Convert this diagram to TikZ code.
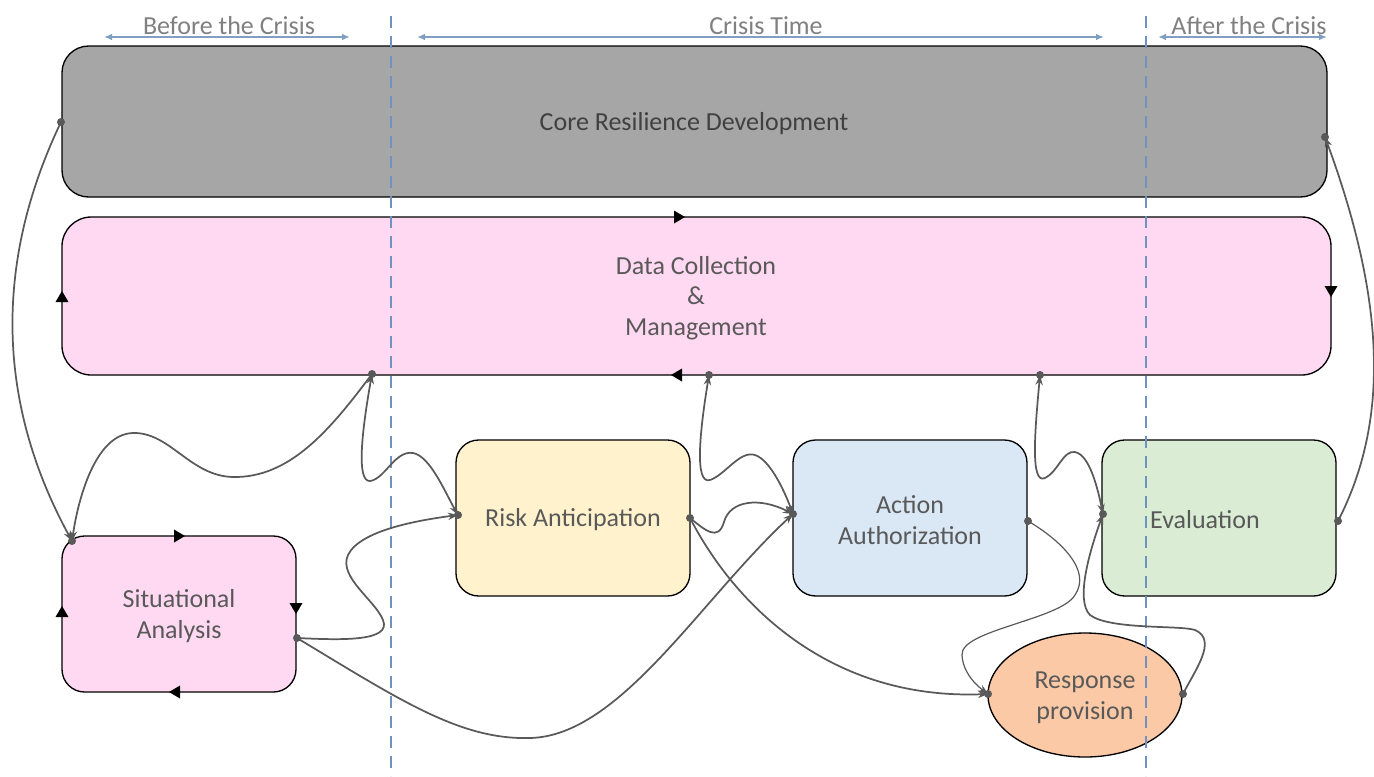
\documentclass[tikz,border=0pt]{standalone}
\usepackage{fontspec}
\setmainfont{Carlito}
\usetikzlibrary{arrows.meta,shapes.geometric}

\definecolor{coreFill}{HTML}{A6A6A6}
\definecolor{pinkFill}{HTML}{FFD8F1}
\definecolor{riskFill}{HTML}{FFF2CC}
\definecolor{actFill}{HTML}{DAE7F5}
\definecolor{evalFill}{HTML}{DAEDD4}
\definecolor{respFill}{HTML}{FCC9A6}
\definecolor{ink}{HTML}{595959}
\definecolor{coreInk}{HTML}{404040}
\definecolor{phaseText}{HTML}{808080}
\definecolor{phaseLine}{HTML}{7F9FC3}
\definecolor{divider}{HTML}{7092BE}

\tikzset{
  box/.style={draw=black, line width=1pt, inner sep=0pt, outer sep=0pt,
    text=ink, align=center, font=\fontsize{19.5}{23}\selectfont},
  stage/.style={box, rectangle, rounded corners=17pt,
    minimum width=175.5pt, minimum height=117pt},
  label/.style={text=ink, font=\fontsize{19.5}{23}\selectfont, inner sep=0pt,
    align=center},
  phase/.style={text=phaseText, font=\fontsize{19.5}{23}\selectfont, inner sep=0pt},
  phasearrow/.style={draw=phaseLine, line width=1.3pt,
    {Latex[length=6pt,width=5pt]}-{Latex[length=6pt,width=5pt]}},
  divline/.style={draw=divider, line width=1.8pt, dash pattern=on 9pt off 6pt},
  conn/.style={draw=ink, line width=1.3pt, -{Stealth[length=7.5pt,width=5.5pt]}},
  biconn/.style={draw=ink, line width=1.3pt,
    {Stealth[length=7.5pt,width=5.5pt]}-{Stealth[length=7.5pt,width=5.5pt]}},
  thinconn/.style={conn, line width=0.9pt},
  mkright/.pic={\fill[black] (6,0) -- (-5,-6.5) -- (-5,6.5) -- cycle;},
  mkleft/.pic={\fill[black] (-6,0) -- (5,-6.5) -- (5,6.5) -- cycle;},
  mkdown/.pic={\fill[black] (0,6) -- (-6.5,-5) -- (6.5,-5) -- cycle;},
  mkup/.pic={\fill[black] (0,-6) -- (-6.5,5) -- (6.5,5) -- cycle;},
}

\begin{document}
\begin{tikzpicture}[x=0.75pt, y=-0.75pt]
\useasboundingbox (0,0) rectangle (1374,776);

% ---- main blocks ----
\node[box, rectangle, fill=coreFill, rounded corners=20pt,
      minimum width=948.75pt, minimum height=113.25pt]
  (core) at (694.5,121.5) {};
\node[box, rectangle, fill=pinkFill, rounded corners=22pt,
      minimum width=951.75pt, minimum height=118.5pt]
  (data) at (696.5,296) {};
\node[stage, fill=pinkFill] (situ) at (179,614) {};
\node[stage, fill=riskFill] (risk) at (573,518) {};
\node[stage, fill=actFill] (act) at (910,518) {};
\node[stage, fill=evalFill] (eval) at (1219,518) {};
\node[box, ellipse, fill=respFill, minimum width=145.5pt, minimum height=93pt]
  (resp) at (1085,695) {};

% ---- block captions ----
\node[label, text=coreInk] (coretext) at (694,124) {Core Resilience Development};
\node[label] (datatext) at (696,298) {Data Collection\\\&\\Management};
\node[label] (situtext) at (179,616) {Situational\\Analysis};
\node[label] (risktext) at (573,520) {Risk Anticipation};
\node[label] (acttext) at (910,520) {Action\\Authorization};
\node[label] (evaltext) at (1205,520) {Evaluation};
\node[label] (resptext) at (1085,698) {Response\\provision};

% ---- circulation markers on the loop blocks ----
\pic at (679,217) {mkright};
\pic at (1331,291) {mkdown};
\pic at (677,375) {mkleft};
\pic at (62,297) {mkup};
\pic at (179,536) {mkright};
\pic at (296,608) {mkdown};
\pic at (175,692) {mkleft};
\pic at (62,612) {mkup};

% ---- phase dividers and headings ----
\coordinate (divA1) at (391,16);  \coordinate (divA2) at (391,776);
\coordinate (divB1) at (1146,16); \coordinate (divB2) at (1146,776);
\draw[divline] (divA1) -- (divA2);
\draw[divline] (divB1) -- (divB2);

\node[phase] (before) at (229,26) {Before the Crisis};
\node[phase] (during) at (766,26) {Crisis Time};
\node[phase] (after) at (1249,26) {After the Crisis};
\coordinate (bA) at (104,37);  \coordinate (bB) at (350,37);
\coordinate (cA) at (417,37);  \coordinate (cB) at (1104,37);
\coordinate (aA) at (1158,37); \coordinate (aB) at (1327,37);
\draw[phasearrow] (bA) -- (bB);
\draw[phasearrow] (cA) -- (cB);
\draw[phasearrow] (aA) -- (aB);

% ---- connection points ----
\coordinate (coreL) at (61,122);
\coordinate (coreR) at (1325,137);
\coordinate (dataA) at (372,374);
\coordinate (dataB) at (709,375);
\coordinate (dataC) at (1040,375);
\coordinate (situT) at (72,541);
\coordinate (situR) at (297,638);
\coordinate (riskL) at (458,515);
\coordinate (riskR) at (690,518);
\coordinate (actL) at (793,514);
\coordinate (actR) at (1028,521);
\coordinate (evalL) at (1103,514);
\coordinate (evalR) at (1338,521);
\coordinate (respL) at (988,694);
\coordinate (respR) at (1183,694);

% ---- connectors ----
\draw[conn] (coreL) .. controls (-5,260) and (-5,400) .. (situT);
\draw[conn] (dataA) .. controls (330,430) and (290,478) .. (233,477)
  .. controls (190,476) and (170,432) .. (133,433)
  .. controls (95,434) and (78,500) .. (situT);
\draw[biconn] (dataA) .. controls (362,430) and (356,482) .. (370,481)
  .. controls (385,479) and (395,450) .. (413,453)
  .. controls (430,456) and (445,492) .. (riskL);
\draw[conn] (situR) .. controls (340,640) and (392,642) .. (383,620)
  .. controls (375,600) and (338,577) .. (348,555)
  .. controls (360,530) and (420,520) .. (riskL);
\draw[conn] (situR) .. controls (400,700) and (460,740) .. (530,738)
  .. controls (620,736) and (700,600) .. (actL);
\draw[conn] (riskR) .. controls (735,605) and (830,700) .. (respL);
\draw[conn] (riskR) .. controls (705,530) and (718,542) .. (724,522)
  .. controls (730,500) and (760,497) .. (actL);
\draw[biconn] (dataB) .. controls (700,430) and (694,485) .. (710,480)
  .. controls (725,475) and (740,450) .. (755,455)
  .. controls (770,460) and (784,490) .. (actL);
\draw[thinconn] (actR) .. controls (1060,540) and (1092,570) .. (1075,595)
  .. controls (1060,620) and (960,630) .. (962,655)
  .. controls (963,675) and (980,688) .. (respL);
\draw[biconn] (dataC) .. controls (1035,430) and (1030,485) .. (1045,478)
  .. controls (1058,472) and (1063,450) .. (1075,452)
  .. controls (1090,455) and (1098,490) .. (evalL);
\draw[conn] (respR) .. controls (1195,670) and (1218,640) .. (1195,630)
  .. controls (1180,625) and (1110,630) .. (1090,615)
  .. controls (1075,600) and (1090,550) .. (evalL);
\draw[conn] (evalR) .. controls (1390,420) and (1385,300) .. (coreR);

% ---- dots at the connection points ----
\foreach \p in {coreL,coreR,dataA,dataB,dataC,situT,situR,riskL,riskR,
                actL,actR,evalL,evalR,respL,respR}
  \fill[ink] (\p) circle[radius=3pt];
\end{tikzpicture}
\end{document}
